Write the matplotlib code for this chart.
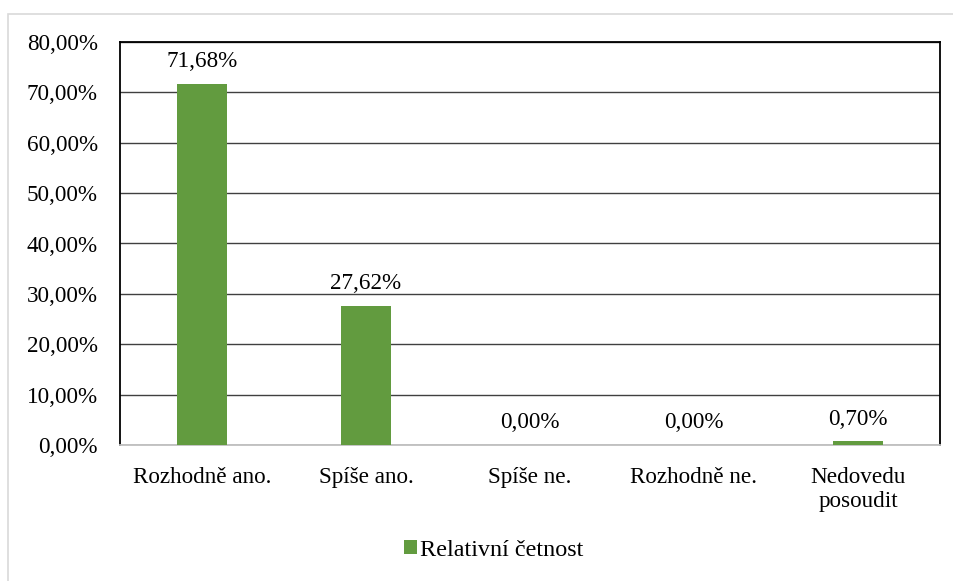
import matplotlib
matplotlib.use("Agg")
import matplotlib.pyplot as plt
from matplotlib.patches import Rectangle
from matplotlib.ticker import FuncFormatter

categories = ["Rozhodně ano.", "Spíše ano.", "Spíše ne.", "Rozhodně ne.", "Nedovedu\nposoudit"]
values = [71.68, 27.62, 0.00, 0.00, 0.70]
series_name = "Relativní četnost"
yticks = [0, 10, 20, 30, 40, 50, 60, 70, 80]

plt.rcParams['font.family'] = ['Liberation Serif', 'DejaVu Serif']
FS = 16.7
W, H = 954, 581
fig = plt.figure(figsize=(W/100, H/100), dpi=100)
fig.patches.append(Rectangle((8.5/W, -0.05), 2, 1 + 0.05 - 13.5/H, transform=fig.transFigure,
                             fill=False, edgecolor='#D9D9D9', linewidth=1.2))
ax = fig.add_axes([120/W, 1-445/H, (940-120)/W, (445-42)/H])

green = '#629B3F'
x = list(range(len(categories)))
bars = ax.bar(x, values, width=0.31, color=green, label=series_name, zorder=3)
for xi, v in zip(x, values):
    ax.text(xi, v + 2.3, f"{v:.2f}".replace('.', ',') + "%", ha='center', va='bottom', fontsize=FS)

ax.set_xlim(-0.5, len(categories) - 0.5)
ax.set_ylim(0, 80)
ax.set_yticks(yticks)
ax.yaxis.set_major_formatter(FuncFormatter(lambda v, p: f"{v:.2f}".replace('.', ',') + "%"))
ax.set_xticks(x)
ax.set_xticklabels(categories, fontsize=FS, linespacing=1.2)
ax.tick_params(axis='y', labelsize=FS, length=0, pad=16)
ax.tick_params(axis='x', length=0, pad=16)
ax.grid(axis='y', color='#404040', linewidth=1, zorder=1)
for s in ['top', 'left', 'right']:
    ax.spines[s].set_color('black')
    ax.spines[s].set_linewidth(1.3)
ax.spines['bottom'].set_color('#BFBFBF')
ax.spines['bottom'].set_linewidth(1.3)

leg = fig.legend(loc='center', bbox_to_anchor=(494/W, 1-550/H), frameon=False, fontsize=17.4,
                 handlelength=0.5, handleheight=0.5, handletextpad=0.15)
fig.savefig("out.png", dpi=100)
